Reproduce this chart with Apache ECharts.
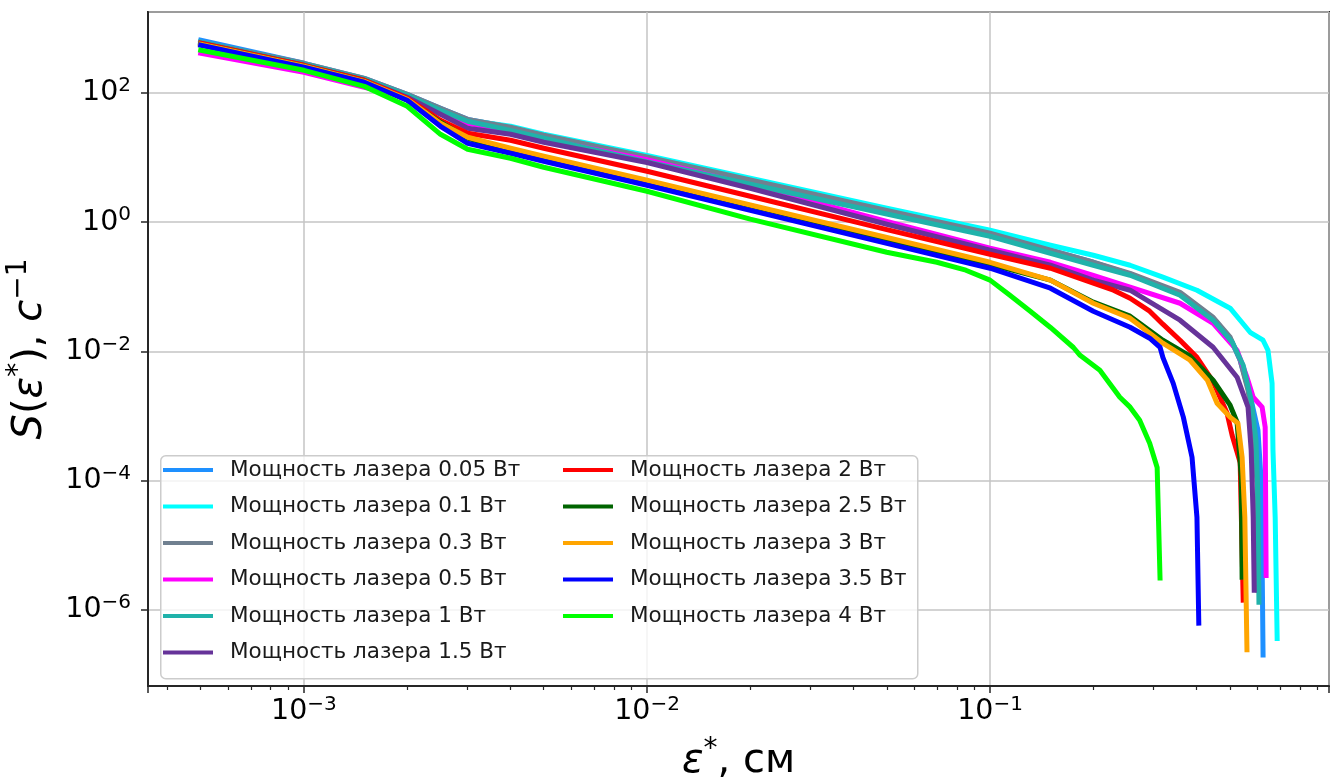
<!DOCTYPE html>
<html>
<head>
<meta charset="utf-8">
<script src="https://cdn.jsdelivr.net/npm/echarts@6/dist/echarts.min.js"></script>
<style>
  html, body { margin: 0; padding: 0; background: #fff; }
  #chart { width: 1339px; height: 782px; }
</style>
</head>
<body>
<div id="chart"></div>
<script>
// подписи серий
const names = ['Мощность лазера 0.05 Вт', 'Мощность лазера 0.1 Вт', 'Мощность лазера 0.3 Вт',
  'Мощность лазера 0.5 Вт', 'Мощность лазера 1 Вт', 'Мощность лазера 1.5 Вт',
  'Мощность лазера 2 Вт', 'Мощность лазера 2.5 Вт', 'Мощность лазера 3 Вт',
  'Мощность лазера 3.5 Вт', 'Мощность лазера 4 Вт'];

// данные [eps, S]
const s005 = [[5e-4,657],[1e-3,289],[1.5e-3,169],[2e-3,95.8],[2.5e-3,58.2],[3e-3,39.2],[4e-3,29.6],[5e-3,22.2],[0.01,10.2],[0.02,4.45],[0.05,1.5],[0.1,0.676],[0.15,0.369],[0.2,0.24],[0.256,0.157],[0.358,0.0796],[0.447,0.0327],[0.501,0.016],[0.536,0.0073],[0.573,0.0021],[0.604,6.0e-4],[0.617,1.0e-4],[0.621,5.9e-6],[0.625,2.0e-7]];
const s01 = [[5e-4,611],[1e-3,279],[1.5e-3,164],[2e-3,92.4],[2.5e-3,48.7],[3e-3,37.9],[4e-3,30.6],[5e-3,23.0],[0.01,10.8],[0.02,4.8],[0.05,1.65],[0.1,0.752],[0.15,0.441],[0.2,0.308],[0.256,0.216],[0.319,0.141],[0.401,0.0886],[0.501,0.0467],[0.536,0.0304],[0.573,0.0198],[0.625,0.0149],[0.646,0.0104],[0.664,0.0032],[0.668,2.96e-4],[0.678,2.7e-5],[0.687,3.6e-7]];
const s03 = [[5e-4,611],[1e-3,289],[1.5e-3,169],[2e-3,95.8],[2.5e-3,58.2],[3e-3,39.2],[4e-3,29.6],[5e-3,22.2],[0.01,10.3],[0.02,4.5],[0.05,1.53],[0.1,0.676],[0.15,0.369],[0.2,0.24],[0.256,0.162],[0.358,0.0825],[0.447,0.0338],[0.501,0.0166],[0.536,0.0073],[0.565,0.0025],[0.585,7.7e-4],[0.6,9.1e-5],[0.604,2.0e-6]];
const s05 = [[5e-4,413],[1e-3,210],[1.5e-3,123],[2e-3,86.1],[2.5e-3,50.5],[3e-3,34.1],[4e-3,25.6],[5e-3,19.2],[0.01,9.3],[0.02,3.74],[0.05,1.03],[0.1,0.396],[0.15,0.24],[0.2,0.151],[0.256,0.0986],[0.358,0.0557],[0.447,0.0273],[0.525,0.0104],[0.561,0.00399],[0.585,0.00195],[0.621,0.00137],[0.634,6.7e-4],[0.638,3.4e-6]];
const s1 = [[5e-4,611],[1e-3,279],[1.5e-3,164],[2e-3,92.4],[2.5e-3,54.2],[3e-3,36.6],[4e-3,26.5],[5e-3,20.0],[0.01,8.6],[0.02,3.87],[0.05,1.34],[0.1,0.607],[0.15,0.331],[0.2,0.216],[0.256,0.151],[0.358,0.0741],[0.447,0.0304],[0.508,0.0139],[0.547,0.0061],[0.577,0.00176],[0.596,4.2e-4],[0.604,5.0e-5],[0.608,1.31e-6]];
const s15 = [[5e-4,590],[1e-3,269],[1.5e-3,158],[2e-3,86.1],[2.5e-3,47.0],[3e-3,28.5],[4e-3,23.0],[5e-3,17.3],[0.01,8.4],[0.02,3.36],[0.05,0.93],[0.1,0.369],[0.15,0.216],[0.2,0.127],[0.256,0.0886],[0.358,0.0304],[0.447,0.0116],[0.525,0.00399],[0.565,0.00137],[0.577,2.96e-4],[0.585,2.7e-5],[0.589,2.0e-6]];
const s2 = [[5e-4,590],[1e-3,269],[1.5e-3,158],[2e-3,83.1],[2.5e-3,37.9],[3e-3,23.9],[4e-3,18.6],[5e-3,14.0],[0.01,6.15],[0.02,2.53],[0.05,0.77],[0.1,0.32],[0.15,0.194],[0.2,0.114],[0.229,0.0886],[0.256,0.0665],[0.292,0.042],[0.319,0.0264],[0.358,0.0149],[0.401,0.0081],[0.447,0.0034],[0.491,0.0011],[0.508,5.0e-4],[0.536,1.9e-4],[0.547,1.41e-6]];
const s25 = [[5e-4,569],[1e-3,260],[1.5e-3,152],[2e-3,77.4],[2.5e-3,35.3],[3e-3,20.0],[4e-3,12.6],[5e-3,9.8],[0.01,4.3],[0.02,1.8],[0.05,0.55],[0.1,0.224],[0.15,0.127],[0.2,0.0578],[0.256,0.0351],[0.319,0.0149],[0.383,0.00843],[0.447,0.00358],[0.501,0.00147],[0.525,8.0e-4],[0.54,1.13e-4],[0.543,3.2e-6]];
const s3 = [[5e-4,569],[1e-3,260],[1.5e-3,152],[2e-3,80.2],[2.5e-3,34.1],[3e-3,20.7],[4e-3,14.0],[5e-3,10.5],[0.01,4.47],[0.02,1.85],[0.05,0.58],[0.1,0.24],[0.15,0.127],[0.2,0.0557],[0.256,0.0327],[0.319,0.0134],[0.383,0.0073],[0.43,0.0036],[0.459,0.00158],[0.501,9.6e-4],[0.528,7.7e-4],[0.543,2.3e-4],[0.553,2.7e-5],[0.561,2.4e-7]];
const s35 = [[5e-4,549],[1e-3,251],[1.5e-3,147],[2e-3,77.4],[2.5e-3,30.6],[3e-3,16.7],[4e-3,11.7],[5e-3,8.8],[0.01,3.74],[0.02,1.53],[0.05,0.47],[0.1,0.194],[0.15,0.0951],[0.2,0.0419],[0.256,0.0237],[0.292,0.016],[0.313,0.0116],[0.319,0.0081],[0.342,0.0032],[0.366,9.6e-4],[0.388,2.3e-4],[0.401,2.7e-5],[0.406,6.2e-7]];
const s4 = [[5e-4,460],[1e-3,225],[1.5e-3,127],[2e-3,62.5],[2.5e-3,23.0],[3e-3,13.5],[4e-3,9.79],[5e-3,7.1],[0.01,3.02],[0.02,1.12],[0.05,0.343],[0.07,0.24],[0.085,0.181],[0.1,0.127],[0.114,0.075],[0.131,0.042],[0.15,0.0235],[0.175,0.0115],[0.183,0.0087],[0.209,0.0051],[0.239,0.00195],[0.256,0.00137],[0.273,8.6e-4],[0.292,3.8e-4],[0.307,1.6e-4],[0.313,3.1e-6]];

const allData = [s005, s01, s03, s05, s1, s15, s2, s25, s3, s35, s4];
const colors = ['#1e90ff', '#00ffff', '#708090', '#ff00ff', '#20b2aa', '#663399',
  '#ff0000', '#006400', '#ffa500', '#0000ff', '#00ff00'];

const FONT = 'DejaVu Sans';

// подпись вида 10^n
function powLabel(v) {
  const e = Math.log10(v);
  const r = Math.round(e);
  if (Math.abs(e - r) > 1e-6) return '';
  return '{b|10}{s|' + (r < 0 ? '\u2212' + (-r) : r) + '}';
}
const tickRich = {
  b: { fontFamily: FONT, fontSize: 28.5, lineHeight: 34, color: '#000' },
  s: { fontFamily: FONT, fontSize: 20, lineHeight: 20, verticalAlign: 'top', color: '#000' }
};
const nameRich = {
  i: { fontFamily: FONT, fontStyle: 'italic', fontSize: 40, lineHeight: 52, color: '#000' },
  n: { fontFamily: FONT, fontSize: 40, lineHeight: 52, color: '#000' },
  s: { fontFamily: FONT, fontSize: 28, lineHeight: 28, verticalAlign: 'top', color: '#000' }
};

let myChart = echarts.init(document.getElementById('chart'));

const legendCommon = {
  orient: 'vertical',
  icon: 'rect',
  itemWidth: 50,
  itemHeight: 4,
  itemGap: 14.5,
  padding: 0,
  selectedMode: false,
  textStyle: { fontFamily: FONT, fontSize: 21.5, lineHeight: 20, color: '#1a1a1a', padding: [0, 0, 0, 12] }
};

myChart.setOption({
  animation: false,
  backgroundColor: '#fff',
  grid: {
    left: 148, right: 10, top: 12, bottom: 96,
    containLabel: false,
    outerBoundsMode: 'none',
    show: true, borderColor: '#262626', borderWidth: 2, backgroundColor: 'transparent'
  },
  legend: [
    Object.assign({ left: 163, top: 459, data: names.slice(0, 6) }, legendCommon),
    Object.assign({ left: 563, top: 459, data: names.slice(6) }, legendCommon)
  ],
  graphic: [{
    type: 'rect', z: 3, left: 160, top: 455,
    shape: { width: 757, height: 223, r: 5 },
    style: { fill: 'rgba(255,255,255,0.8)', stroke: '#cccccc', lineWidth: 1.5 }
  }],
  xAxis: {
    type: 'log',
    logBase: 10,
    min: 3.51e-4,
    max: 0.973,
    name: '{i|ε}{s|*}{n|, см}',
    nameLocation: 'middle',
    nameGap: 50,
    nameTextStyle: { rich: nameRich },
    axisLine: { show: true, lineStyle: { color: '#262626', width: 2 } },
    axisTick: { show: true, length: 7, lineStyle: { color: '#262626', width: 1.5 } },
    minorTick: { show: true, splitNumber: 9, length: 4, lineStyle: { color: '#262626', width: 1.2 } },
    axisLabel: { margin: 9, showMinLabel: false, showMaxLabel: false, formatter: powLabel, rich: tickRich },
    splitLine: { show: true, lineStyle: { color: '#c4c4c4', width: 1.5 } }
  },
  yAxis: {
    type: 'log',
    logBase: 100,
    min: 6.6e-8,
    max: 1800,
    name: '{i|S}{n|(}{i|ε}{s|*}{n|), }{i|c}{s|\u22121}',
    nameLocation: 'middle',
    nameRotate: 90,
    nameGap: 91,
    nameTextStyle: { rich: nameRich },
    axisLine: { show: true, lineStyle: { color: '#262626', width: 2 } },
    axisTick: { show: true, length: 7, lineStyle: { color: '#262626', width: 1.5 } },
    axisLabel: { margin: 17, showMinLabel: false, showMaxLabel: false, formatter: powLabel, rich: tickRich },
    splitLine: { show: true, lineStyle: { color: '#c4c4c4', width: 1.5 } }
  },
  series: allData.map(function (d, i) {
    return {
      name: names[i],
      type: 'line',
      data: d,
      showSymbol: false,
      symbol: 'none',
      color: colors[i],
      lineStyle: { width: 5, color: colors[i], cap: 'square', join: 'round' }
    };
  })
});
</script>
</body>
</html>
